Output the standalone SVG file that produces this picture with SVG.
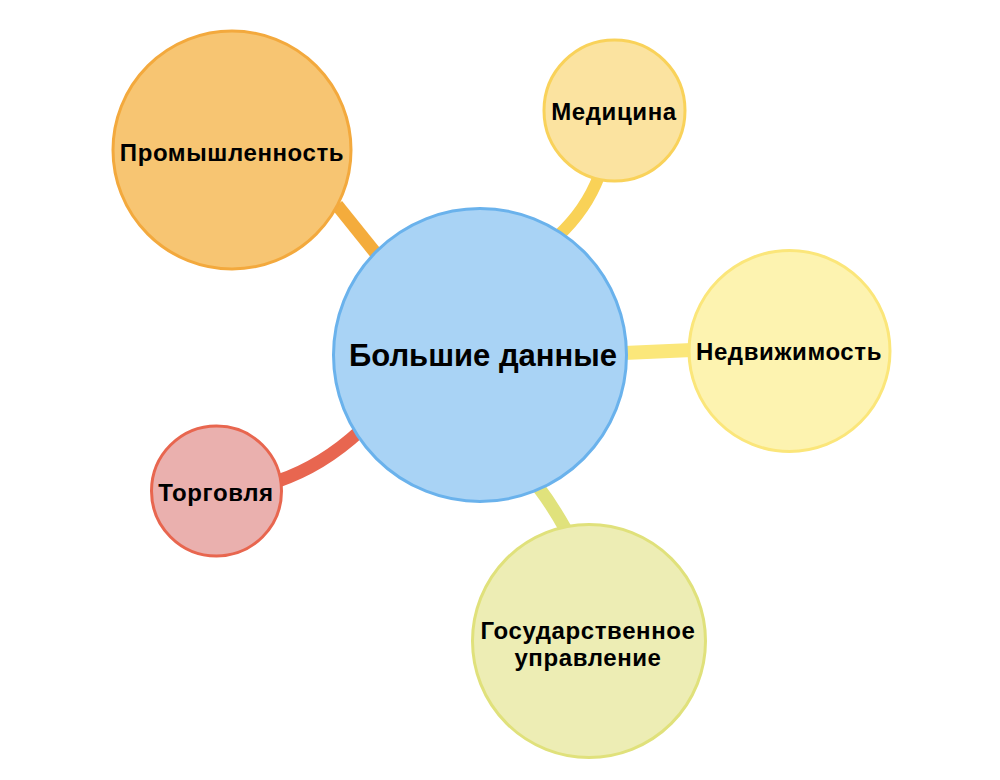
<svg xmlns="http://www.w3.org/2000/svg" width="1000" height="780" viewBox="0 0 1000 780">
<style>
.lbl{font-family:"Liberation Sans",Arial,sans-serif;font-weight:bold;fill:#000;text-anchor:middle;dominant-baseline:central}
.s{font-size:24px;letter-spacing:0.6px}
.c{fill:none;stroke-linecap:butt}
.n{stroke-width:3}
</style>
<rect width="1000" height="780" fill="#fff"/>
<g id="connectors">
<path class="c" d="M337 205 L378 256" stroke="#F4AC3C" stroke-width="13"/>
<path class="c" d="M599 176 Q586 210 558 236" stroke="#F9D257" stroke-width="12"/>
<path class="c" d="M624 353 L692 350" stroke="#FBE77A" stroke-width="14"/>
<path class="c" d="M278 481 Q322 466 360 431" stroke="#E86650" stroke-width="13"/>
<path class="c" d="M539 488 Q552 505 566 530" stroke="#E0E27C" stroke-width="13"/>
</g>
<g id="node-industry">
<circle class="n" cx="232" cy="150" r="119" fill="#F7C572" stroke="#F3A93D"/>
<text class="lbl s" x="232" y="152">Промышленность</text>
</g>
<g id="node-medicine">
<circle class="n" cx="614.5" cy="110.5" r="70.5" fill="#FBE3A0" stroke="#F9D25A"/>
<text class="lbl s" x="614" y="111">Медицина</text>
</g>
<g id="node-realty">
<circle class="n" cx="789.5" cy="351" r="100.5" fill="#FDF3B0" stroke="#FBE67A"/>
<text class="lbl s" x="789" y="351">Недвижимость</text>
</g>
<g id="node-trade">
<circle class="n" cx="216.5" cy="491" r="65" fill="#EAB0AE" stroke="#E8664F"/>
<text class="lbl s" x="216" y="492">Торговля</text>
</g>
<g id="node-gov">
<circle class="n" cx="589" cy="641" r="116.5" fill="#EDEDB4" stroke="#E0E17B"/>
<text class="lbl s" x="588" y="630">Государственное</text>
<text class="lbl s" x="588" y="657">управление</text>
</g>
<g id="node-center">
<circle class="n" cx="480" cy="355" r="146.5" fill="#A9D3F5" stroke="#6AB2EC"/>
<text class="lbl" x="483" y="355" font-size="31">Большие данные</text>
</g>
</svg>
